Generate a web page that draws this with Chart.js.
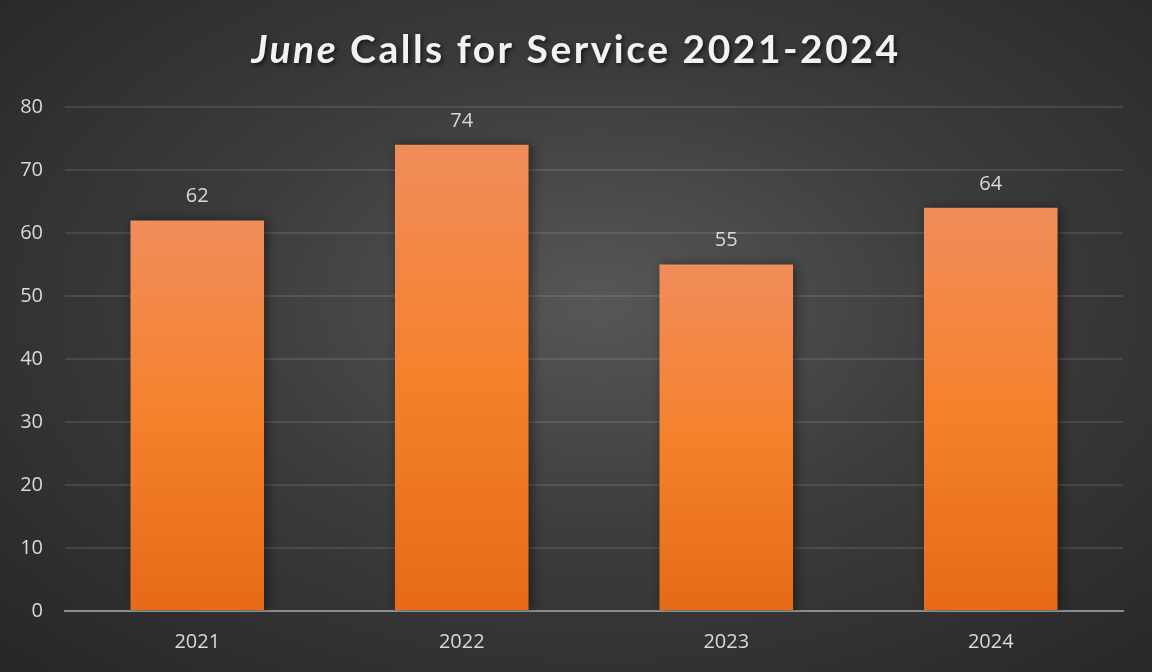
<!DOCTYPE html>
<html>
<head>
<meta charset="utf-8">
<script src="https://cdn.jsdelivr.net/npm/chart.js@4"></script>
<style>
  html, body { margin: 0; padding: 0; }
  body {
    width: 1152px; height: 672px; overflow: hidden;
    background: radial-gradient(ellipse at 52% 45%, #575757 0%, #3c3c3c 45%, #262626 100%);
  }
  #wrap { position: relative; width: 1152px; height: 672px; }
</style>
</head>
<body>
<div id="wrap"><canvas id="calls"></canvas></div>
<script>
const years = ['2021', '2022', '2023', '2024'];
const calls = [62, 74, 55, 64];
const yTicks = [0, 10, 20, 30, 40, 50, 60, 70, 80];

const labelColor = '#d9d9d9';
const tickFont = { family: 'Open Sans', size: 20 };

// title with the month in italics
const titlePlugin = {
  id: 'splitTitle',
  afterDraw(chart) {
    const ctx = chart.ctx;
    const parts = [
      { text: 'June', font: 'italic bold 39px Lato' },
      { text: ' Calls for Service 2021-2024', font: 'bold 39px Lato' }
    ];
    ctx.save();
    ctx.letterSpacing = '2.5px';
    let total = 0;
    parts.forEach(p => { ctx.font = p.font; p.w = ctx.measureText(p.text).width; total += p.w; });
    let x = chart.width / 2 - total / 2;
    ctx.textBaseline = 'alphabetic';
    ctx.fillStyle = '#f2f2f2';
    ctx.shadowColor = 'rgba(0,0,0,0.6)';
    ctx.shadowBlur = 4;
    ctx.shadowOffsetX = 2;
    ctx.shadowOffsetY = 2;
    parts.forEach(p => {
      ctx.font = p.font;
      ctx.fillText(p.text, x, 63);
      x += p.w;
    });
    ctx.restore();
  }
};

// value above each bar
const valueLabels = {
  id: 'valueLabels',
  afterDatasetsDraw(chart) {
    const ctx = chart.ctx;
    const meta = chart.getDatasetMeta(0);
    ctx.save();
    ctx.font = '20px "Open Sans"';
    ctx.fillStyle = labelColor;
    ctx.textAlign = 'center';
    ctx.textBaseline = 'middle';
    meta.data.forEach((bar, i) => {
      ctx.fillText(String(calls[i]), bar.x, bar.y - 24);
    });
    ctx.restore();
  }
};

// soft shadow behind the bars
const barShadow = {
  id: 'barShadow',
  beforeDatasetDraw(chart) {
    const ctx = chart.ctx;
    ctx.save();
    ctx.shadowColor = 'rgba(0,0,0,0.45)';
    ctx.shadowBlur = 10;
    ctx.shadowOffsetX = 3;
    ctx.shadowOffsetY = 0;
  },
  afterDatasetDraw(chart) {
    chart.ctx.restore();
  }
};

function barFill(context) {
  const chart = context.chart;
  const y = chart.scales && chart.scales.y;
  if (!y) return '#f5812c';
  const top = y.getPixelForValue(context.raw);
  const base = y.getPixelForValue(0);
  if (!isFinite(top) || !isFinite(base) || top === base) return '#f5812c';
  const g = chart.ctx.createLinearGradient(0, top, 0, base);
  g.addColorStop(0, '#f18d5b');
  g.addColorStop(0.5, '#f5812c');
  g.addColorStop(1, '#e66a18');
  return g;
}

new Chart(document.getElementById('calls'), {
  type: 'bar',
  data: {
    labels: years,
    datasets: [{
      data: calls,
      backgroundColor: barFill,
      borderWidth: 0,
      categoryPercentage: 1,
      barPercentage: 0.505
    }]
  },
  options: {
    responsive: true,
    maintainAspectRatio: false,
    animation: false,
    layout: { padding: { top: 107, right: 29, bottom: 0, left: 0 } },
    plugins: {
      legend: { display: false },
      tooltip: { enabled: false },
      title: { display: false }
    },
    scales: {
      x: {
        grid: { display: false, drawTicks: false },
        border: { display: true, color: '#8c8c8c', width: 2 },
        ticks: { color: labelColor, font: tickFont, padding: 19 },
        afterFit(scale) { scale.height = 61; }
      },
      y: {
        min: 0,
        max: 80,
        afterBuildTicks(scale) { scale.ticks = yTicks.map(v => ({ value: v })); },
        grid: {
          color: ctx => ctx.tick && ctx.tick.value === 0 ? 'rgba(0,0,0,0)' : 'rgba(255,255,255,0.10)',
          lineWidth: 2,
          drawTicks: false
        },
        border: { display: false },
        ticks: { color: labelColor, font: tickFont, padding: 22 },
        afterFit(scale) { scale.width = 65; }
      }
    }
  },
  plugins: [barShadow, valueLabels, titlePlugin]
});
</script>
</body>
</html>
